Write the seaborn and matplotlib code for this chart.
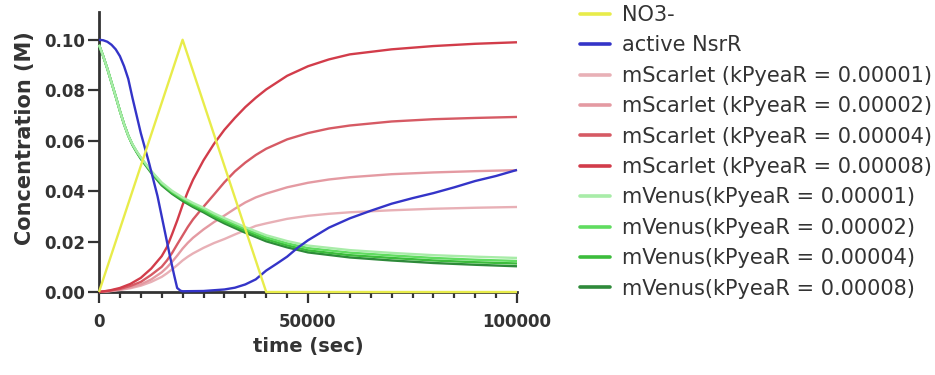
import numpy as np
import pandas as pd
import matplotlib
matplotlib.use("Agg")
import matplotlib.pyplot as plt
from matplotlib.lines import Line2D
from matplotlib.ticker import FixedLocator, MultipleLocator, FuncFormatter
import seaborn as sns

# ---------------- data ----------------
t_no3 = [0, 20000, 40000, 100000]
no3 = [0.0, 0.100, 0.0, 0.0]

t_nsrr = [0, 1000, 2000, 3000, 4000, 5000, 6000, 7000, 8000, 9000, 10000, 11000,
          12000, 13000, 14000, 15000, 16000, 17000, 18000, 18700, 19500, 20000,
          25000, 30000, 32500, 35000, 37500, 40000, 42500, 45000, 47500, 50000,
          55000, 60000, 65000, 70000, 75000, 80000, 85000, 90000, 95000, 100000]
nsrr = [0.100, 0.0998, 0.0992, 0.098, 0.0962, 0.0935, 0.0895, 0.0845, 0.077, 0.070,
        0.063, 0.057, 0.051, 0.0445, 0.038, 0.030, 0.022, 0.014, 0.0065, 0.0016,
        0.0005, 0.0003, 0.0004, 0.001, 0.0017, 0.003, 0.005, 0.0085, 0.0112, 0.014,
        0.0175, 0.0205, 0.0255, 0.0292, 0.0322, 0.035, 0.0372, 0.0392, 0.0415,
        0.044, 0.046, 0.0484]

t_scarlet = [0, 2500, 5000, 7500, 10000, 12500, 15000, 16250, 17500, 18750, 20000,
             21250, 22500, 25000, 27500, 30000, 32500, 35000, 37500, 40000, 45000,
             50000, 55000, 60000, 70000, 80000, 90000, 100000]
scarlet_1 = [0, 0.0003, 0.0008, 0.0015, 0.0025, 0.004, 0.006, 0.0074, 0.009, 0.0107,
             0.0125, 0.014, 0.0153, 0.0175, 0.0194, 0.021, 0.0228, 0.0245, 0.0262,
             0.0272, 0.029, 0.0302, 0.031, 0.0316, 0.0324, 0.033, 0.0334, 0.0337]
scarlet_2 = [0, 0.0004, 0.001, 0.0018, 0.003, 0.005, 0.0078, 0.0097, 0.012, 0.0145,
             0.0172, 0.0195, 0.0215, 0.0248, 0.0277, 0.0303, 0.033, 0.0355, 0.0375,
             0.039, 0.0415, 0.0433, 0.0446, 0.0455, 0.0467, 0.0474, 0.0479, 0.0483]
scarlet_4 = [0, 0.0005, 0.0012, 0.0024, 0.004, 0.0068, 0.010, 0.0125, 0.0155, 0.019,
             0.0224, 0.0258, 0.0288, 0.0338, 0.0386, 0.0435, 0.0478, 0.0513, 0.0543,
             0.0568, 0.0605, 0.063, 0.0648, 0.066, 0.0676, 0.0685, 0.069, 0.0694]
scarlet_8 = [0, 0.0006, 0.0016, 0.0032, 0.0056, 0.0093, 0.0142, 0.0178, 0.023, 0.0285,
             0.0345, 0.0398, 0.0445, 0.0522, 0.0587, 0.0643, 0.069, 0.0733, 0.077,
             0.0803, 0.0857, 0.0895, 0.0922, 0.0942, 0.0962, 0.0975, 0.0984, 0.0990]

t_venus = [0, 1000, 2000, 3000, 4000, 5000, 6000, 7000, 8000, 9000, 10000, 12500,
           15000, 17500, 20000, 22500, 25000, 27500, 30000, 35000, 40000, 45000,
           50000, 60000, 70000, 80000, 90000, 100000]
venus_1 = [0.098, 0.0935, 0.0885, 0.083, 0.0775, 0.0718, 0.0665, 0.062, 0.0586,
           0.0558, 0.0534, 0.048, 0.0434, 0.0401, 0.0375, 0.0353, 0.0334, 0.0312,
           0.0293, 0.0257, 0.0225, 0.0202, 0.0184, 0.0166, 0.0155, 0.0146, 0.014,
           0.0135]
venus_2 = [0.098, 0.0935, 0.0885, 0.083, 0.0775, 0.0718, 0.0665, 0.062, 0.0585,
           0.0557, 0.0532, 0.0478, 0.0431, 0.0397, 0.0371, 0.0348, 0.0328, 0.0306,
           0.0286, 0.025, 0.0217, 0.0193, 0.0174, 0.0156, 0.0145, 0.0135, 0.0128,
           0.0123]
venus_4 = [0.098, 0.0935, 0.0885, 0.083, 0.0775, 0.0718, 0.0665, 0.062, 0.0584,
           0.0556, 0.053, 0.0475, 0.0427, 0.0393, 0.0366, 0.0342, 0.0322, 0.0299,
           0.0279, 0.0242, 0.0209, 0.0185, 0.0165, 0.0146, 0.0135, 0.0125, 0.0118,
           0.0113]
venus_8 = [0.098, 0.0935, 0.0885, 0.083, 0.0775, 0.0718, 0.0665, 0.062, 0.0583,
           0.0554, 0.0528, 0.0472, 0.0423, 0.0389, 0.0361, 0.0337, 0.0316, 0.0293,
           0.0272, 0.0235, 0.0201, 0.0177, 0.0157, 0.0137, 0.0125, 0.0115, 0.0108,
           0.0102]

labels = ["NO3-", "active NsrR",
          "mScarlet (kPyeaR = 0.00001)", "mScarlet (kPyeaR = 0.00002)",
          "mScarlet (kPyeaR = 0.00004)", "mScarlet (kPyeaR = 0.00008)",
          "mVenus(kPyeaR = 0.00001)", "mVenus(kPyeaR = 0.00002)",
          "mVenus(kPyeaR = 0.00004)", "mVenus(kPyeaR = 0.00008)"]
colors = ["#e8ec4a", "#3434c8",
          "#e8b0b6", "#e49aa2", "#d65a64", "#d23c4a",
          "#a8eca8", "#60dc60", "#3cbc3c", "#2e8a3a"]

series = [(t_no3, no3), (t_nsrr, nsrr),
          (t_scarlet, scarlet_1), (t_scarlet, scarlet_2),
          (t_scarlet, scarlet_4), (t_scarlet, scarlet_8),
          (t_venus, venus_1), (t_venus, venus_2), (t_venus, venus_4), (t_venus, venus_8)]

frames = []
for lab, (tt, vv) in zip(labels, series):
    frames.append(pd.DataFrame({"time": tt, "conc": vv, "series": lab}))
df = pd.concat(frames, ignore_index=True)

palette = dict(zip(labels, colors))
draw_order = labels[2:6] + labels[6:10][::-1] + labels[1:2] + labels[0:1]

# ---------------- figure ----------------
sns.set_style("ticks")
plt.rcParams["font.family"] = ["DejaVu Sans"]

fig = plt.figure(figsize=(9.35, 3.75), dpi=100)
ax = fig.add_axes([99 / 935, 1 - 292 / 375, 418 / 935, 280 / 375])

sns.lineplot(data=df, x="time", y="conc", hue="series", hue_order=draw_order,
             palette=palette, estimator=None, sort=False, legend=False,
             linewidth=1.7, ax=ax)
for ln in ax.lines:
    ln.set_clip_on(False)
    ln.set_zorder(3)
    ln.set_solid_capstyle("butt")
    ln.set_solid_joinstyle("round")

ax.set_xlim(0, 100000)
ax.set_ylim(0, 0.111)

for s in ["top", "right"]:
    ax.spines[s].set_visible(False)
for s in ["left", "bottom"]:
    ax.spines[s].set_linewidth(2.0)
    ax.spines[s].set_color("#333333")

ax.xaxis.set_major_locator(FixedLocator([0, 50000, 100000]))
ax.xaxis.set_minor_locator(MultipleLocator(5000))
ax.xaxis.set_major_formatter(FuncFormatter(lambda v, p: f"{int(v)}"))
ax.yaxis.set_major_locator(FixedLocator([0, 0.02, 0.04, 0.06, 0.08, 0.10]))
ax.yaxis.set_major_formatter(FuncFormatter(lambda v, p: f"{v:.2f}"))

ax.tick_params(axis="both", which="major", length=8, width=1.6, color="#333333",
               labelsize=12, labelcolor="#333333")
ax.tick_params(axis="x", which="major", pad=7)
ax.tick_params(axis="y", which="major", pad=2)
ax.tick_params(axis="x", which="minor", length=4, width=1.6, color="#333333")
for lbl in ax.get_xticklabels() + ax.get_yticklabels():
    lbl.set_fontweight("bold")

ax.set_xlabel("time (sec)", fontsize=14, fontweight="bold", color="#333333")
ax.set_ylabel("Concentration (M)", fontsize=15, fontweight="bold", color="#333333")
ax.xaxis.set_label_coords(0.5, -0.161)
ax.yaxis.set_label_coords(-0.153, 0.55)

handles = [Line2D([0], [0], color=palette[l], lw=2.6) for l in labels]
leg = fig.legend(handles, labels, loc="upper left",
                 bbox_to_anchor=(580 / 935, 1 - 5 / 375),
                 frameon=False, fontsize=15, handlelength=1.45, handletextpad=0.55,
                 labelspacing=0.5, borderpad=0, borderaxespad=0)
for txt in leg.get_texts():
    txt.set_color("#333333")

fig.savefig("out.png", dpi=100, facecolor="white")
